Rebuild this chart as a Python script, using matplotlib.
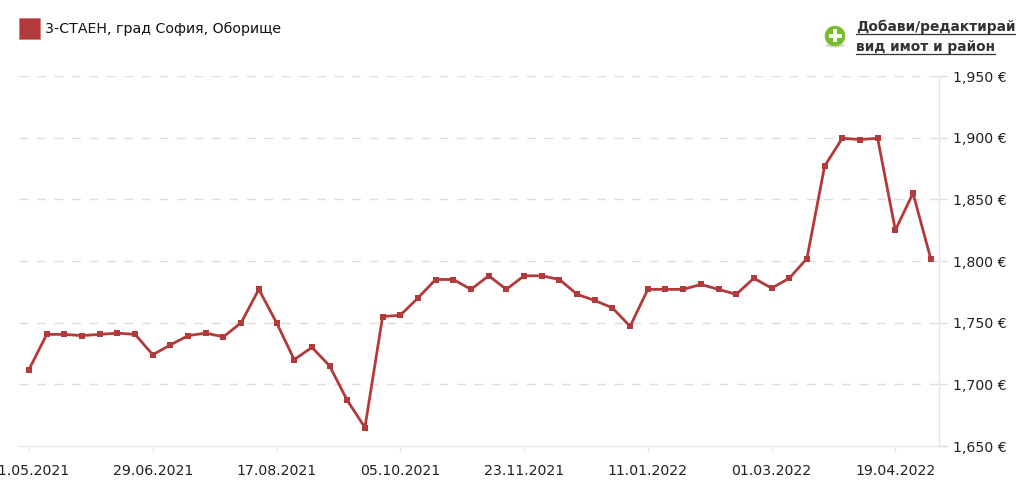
import matplotlib
matplotlib.use('Agg')
import matplotlib.pyplot as plt
from matplotlib.lines import Line2D
from matplotlib.patches import Circle, Rectangle, Ellipse

plt.rcParams['font.family'] = ['DejaVu Sans']

# values
prices = [1712, 1740.5, 1740.5, 1739.5, 1740.5, 1741.5, 1740.5, 1724, 1732, 1739.5,
          1741.5, 1738.5, 1750, 1777, 1750, 1720, 1730, 1715, 1687, 1665,
          1755, 1756, 1770, 1785, 1785, 1777, 1788, 1777, 1788, 1788,
          1785, 1773, 1768, 1762, 1747, 1777, 1777, 1777, 1781, 1777,
          1773, 1786, 1778, 1786, 1802, 1877, 1899.5, 1898.5, 1899.5, 1825,
          1855, 1802]
date_labels = ['11.05.2021', '29.06.2021', '17.08.2021', '05.10.2021',
               '23.11.2021', '11.01.2022', '01.03.2022', '19.04.2022']
y_ticks = [1650, 1700, 1750, 1800, 1850, 1900, 1950]
legend_label = '3-СТАЕН, град София, Оборище'
link_lines = ['Добави/редактирай', 'вид имот и район']

W, H = 1016, 486
RED = '#b33a3a'

fig = plt.figure(figsize=(W / 100, H / 100), dpi=100)
ax = fig.add_axes([19 / W, 1 - 446 / H, 920 / W, 370 / H])

x = list(range(len(prices)))
ax.plot(x, prices, color=RED, lw=2, marker='s', ms=4.8, mew=0, zorder=3, clip_on=False)

ax.set_xlim(-0.566, 51.47)
ax.set_ylim(1650, 1950)

ax.set_xticks(x[::7])
ax.set_xticklabels(date_labels, fontsize=10.2, color='#222222')
ax.set_yticks(y_ticks)
ax.set_yticklabels([f'{v:,} €' for v in y_ticks], fontsize=10.2, color='#222222')
ax.yaxis.tick_right()
ax.tick_params(axis='x', length=4.3, width=1, color='#e6e6e6', pad=8.5)
ax.tick_params(axis='y', length=5.5, width=1, color='#dddddd', pad=4.5)

for v in y_ticks[1:]:
    ax.axhline(v, color='#dddddd', lw=1, dashes=(6.3, 6.3), zorder=1)

for s in ['top', 'left']:
    ax.spines[s].set_visible(False)
for s in ['right', 'bottom']:
    ax.spines[s].set_color('#e6e6e6')
    ax.spines[s].set_linewidth(1)

# legend
fig.add_artist(Rectangle((19 / W, 1 - 38.5 / H), 21 / W, 21 / H, transform=fig.transFigure,
                         facecolor=RED, edgecolor='#d08080', lw=0.6))
fig.text(45 / W, 1 - 29 / H, legend_label, fontsize=10.15, color='#111111', va='center', ha='left')

# add icon
cx, cy = 835, 36
icon_ax = dict(transform=fig.transFigure)
fig.add_artist(Ellipse((cx / W, 1 - (cy + 9.5) / H), 20 / W, 4 / H, facecolor='#d8d8d8', edgecolor='none', **icon_ax))
fig.add_artist(Ellipse((cx / W, 1 - cy / H), 20 / W, 20 / H, facecolor='#7ab82e', edgecolor='#8cc63f', lw=0.5, **icon_ax))
fig.add_artist(Rectangle(((cx - 6.5) / W, 1 - (cy + 2) / H), 13 / W, 4 / H, facecolor='#f4faec', edgecolor='none', **icon_ax))
fig.add_artist(Rectangle(((cx - 2) / W, 1 - (cy + 6.5) / H), 4 / W, 13 / H, facecolor='#f4faec', edgecolor='none', **icon_ax))

# link text, underlined by hand
fig.canvas.draw()
renderer = fig.canvas.get_renderer()
for label, ypos in zip(link_lines, [27, 47]):
    t = fig.text(856 / W, 1 - ypos / H, label, fontsize=9.95, fontweight='bold',
                 color='#333333', va='center', ha='left')
    box = t.get_window_extent(renderer)
    fig.add_artist(Line2D([856 / W, min(box.x1, W) / W], [1 - (ypos + 6.8) / H] * 2,
                          color='#333333', lw=0.9, transform=fig.transFigure))

fig.savefig('out.png', dpi=100)
